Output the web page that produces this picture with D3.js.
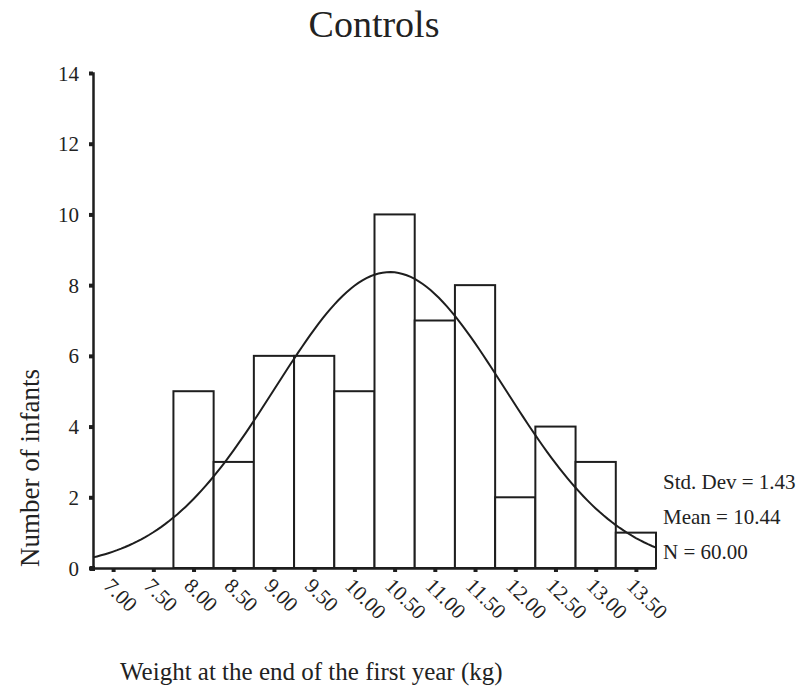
<!DOCTYPE html>
<html>
<head>
<meta charset="utf-8">
<script src="https://cdn.jsdelivr.net/npm/d3@7"></script>
<style>
  html, body { margin: 0; padding: 0; background: #fff; }
  svg { display: block; }
  text { font-family: "Liberation Serif", "Times New Roman", serif; fill: #222; }
</style>
</head>
<body>
<svg id="chart" width="803" height="699"></svg>
<script>
// Histogram bins (kg, bin centres) and the number of infants in each
const binCenters = [7.00, 7.50, 8.00, 8.50, 9.00, 9.50, 10.00, 10.50, 11.00, 11.50, 12.00, 12.50, 13.00, 13.50];
const counts     = [0,    0,    5,    3,    6,    6,    5,     10,    7,     8,     2,     4,     3,     1];
const binWidth = 0.5;

// Summary statistics for the fitted normal curve
const stdDev = 1.43;
const mean = 10.44;
const nTotal = 60;
const statLabels = ["Std. Dev = 1.43", "Mean = 10.44", "N = 60.00"];

const yTicks = [0, 2, 4, 6, 8, 10, 12, 14];
const xTickLabels = ["7.00", "7.50", "8.00", "8.50", "9.00", "9.50", "10.00", "10.50", "11.00", "11.50", "12.00", "12.50", "13.00", "13.50"];

const svg = d3.select("#chart");
const ink = "#1e1e1e";
const serif = "'Liberation Serif', 'Times New Roman', serif";

const x = d3.scaleLinear().domain([6.75, 13.75]).range([93, 656]);
const y = d3.scaleLinear().domain([0, 14]).range([568, 73]);

// Title
svg.append("text")
  .attr("x", 374).attr("y", 37)
  .attr("text-anchor", "middle")
  .style("font-size", "38px")
  .text("Controls");

// Bars
const bins = binCenters.map((c, i) => ({ c, n: counts[i] })).filter(d => d.n > 0);
svg.append("g").selectAll("rect")
  .data(bins)
  .join("rect")
  .attr("x", d => x(d.c - binWidth / 2))
  .attr("width", d => x(d.c + binWidth / 2) - x(d.c - binWidth / 2))
  .attr("y", d => y(d.n))
  .attr("height", d => y(0) - y(d.n))
  .attr("fill", "#fff")
  .attr("stroke", ink)
  .attr("stroke-width", 2);

// Fitted normal curve scaled to counts per bin
const pdf = v => Math.exp(-0.5 * Math.pow((v - mean) / stdDev, 2)) / (stdDev * Math.sqrt(2 * Math.PI));
const xs = d3.range(6.75, 13.75 + 1e-9, 0.05);
const line = d3.line().x(v => x(v)).y(v => y(nTotal * binWidth * pdf(v)));
svg.append("path")
  .datum(xs)
  .attr("d", line)
  .attr("fill", "none")
  .attr("stroke", ink)
  .attr("stroke-width", 2);

// Y axis
const yAxis = svg.append("g")
  .attr("transform", `translate(${x.range()[0]},0)`)
  .call(d3.axisLeft(y).tickValues(yTicks).tickFormat(d3.format("d")).tickSize(4).tickPadding(10));
yAxis.select(".domain").attr("stroke", ink).attr("stroke-width", 2.5);
yAxis.selectAll(".tick line").attr("stroke", ink).attr("stroke-width", 4);
yAxis.selectAll(".tick text")
  .style("font-size", "21px")
  .style("font-family", serif)
  .attr("fill", "#222")
  .attr("dy", "0.34em");

// X axis
const xAxis = svg.append("g")
  .attr("transform", `translate(0,${y(0)})`)
  .call(d3.axisBottom(x).tickValues(binCenters).tickFormat((d, i) => xTickLabels[i]).tickSize(4).tickSizeOuter(0));
xAxis.select(".domain").attr("stroke", ink).attr("stroke-width", 2.5);
xAxis.selectAll(".tick line").attr("stroke", ink).attr("stroke-width", 4);
xAxis.selectAll(".tick text")
  .style("font-size", "21px")
  .style("font-family", serif)
  .attr("fill", "#222")
  .attr("text-anchor", "start")
  .attr("dy", null)
  .attr("y", 0)
  .attr("transform", "translate(-11,19) rotate(45)");

// Corner mark where the axes meet
svg.append("rect")
  .attr("x", x.range()[0] - 3).attr("y", y(0) - 2)
  .attr("width", 5).attr("height", 5)
  .attr("fill", ink);

// Axis titles
svg.append("text")
  .attr("transform", `translate(39,468) rotate(-90)`)
  .attr("text-anchor", "middle")
  .style("font-size", "27px")
  .text("Number of infants");

svg.append("text")
  .attr("x", 120).attr("y", 680)
  .style("font-size", "25px")
  .text("Weight at the end of the first year (kg)");

// Statistics block
svg.append("g").selectAll("text")
  .data(statLabels)
  .join("text")
  .attr("x", 663)
  .attr("y", (d, i) => 489 + i * 35)
  .style("font-size", "21px")
  .text(d => d);
</script>
</body>
</html>
